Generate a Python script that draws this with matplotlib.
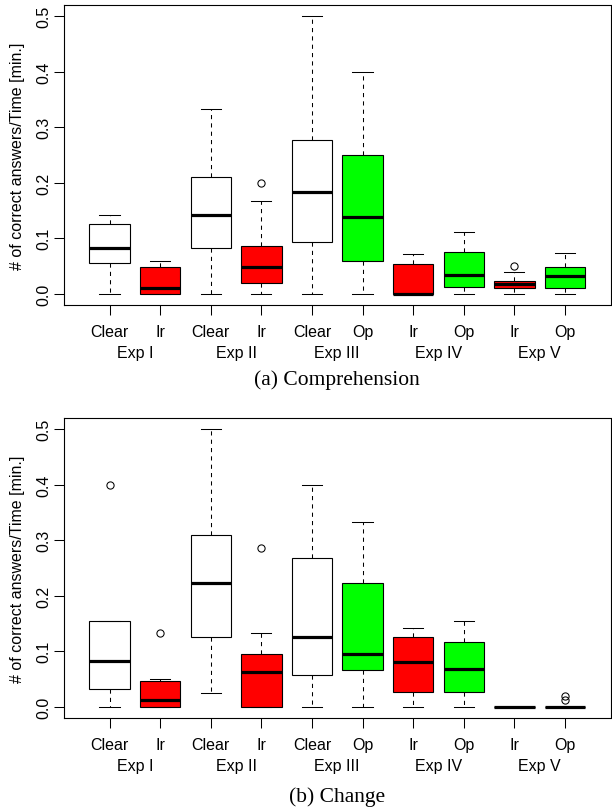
import matplotlib
matplotlib.use("Agg")
import matplotlib.pyplot as plt
import numpy as np

# box labels and fill colours (same layout in both panels)
box_labels = ['Clear', 'Ir', 'Clear', 'Ir', 'Clear', 'Op', 'Ir', 'Op', 'Ir', 'Op']
box_colors = ['white', 'red', 'white', 'red', 'white', '#00FF00', 'red', '#00FF00', 'red', '#00FF00']
exp_labels = ['Exp I', 'Exp II', 'Exp III', 'Exp IV', 'Exp V']

# (a) Comprehension
comp_whislo = [0, 0, 0, 0, 0, 0, 0, 0, 0, 0]
comp_q1 = [0.055, 0.0, 0.0833, 0.019, 0.093, 0.0587, 0.0, 0.0126, 0.0108, 0.0102]
comp_med = [0.083, 0.0114, 0.1429, 0.049, 0.183, 0.138, 0.0, 0.034, 0.0186, 0.033]
comp_q3 = [0.125, 0.0485, 0.2105, 0.0862, 0.277, 0.25, 0.0545, 0.076, 0.0228, 0.048]
comp_whishi = [0.1429, 0.0588, 0.3333, 0.1667, 0.5, 0.4, 0.0714, 0.111, 0.04, 0.074]
comp_fliers = [[], [], [], [0.2], [], [], [], [], [0.05], []]

# (b) Change
chg_whislo = [0, 0, 0.025, 0, 0, 0, 0, 0, 0, 0]
chg_q1 = [0.033, 0.0, 0.125, 0.0, 0.058, 0.067, 0.0275, 0.0263, 0, 0]
chg_med = [0.0833, 0.012, 0.2228, 0.0625, 0.125, 0.0958, 0.0808, 0.0677, 0, 0]
chg_q3 = [0.1545, 0.0467, 0.309, 0.0952, 0.2677, 0.2228, 0.125, 0.1174, 0, 0]
chg_whishi = [0.1545, 0.05, 0.5, 0.1333, 0.4, 0.3333, 0.1429, 0.155, 0, 0]
chg_fliers = [[0.4], [0.1333], [], [0.2857], [], [], [], [], [], [0.02, 0.0125]]

yticks = [0.0, 0.1, 0.2, 0.3, 0.4, 0.5]

FS = 11.5
plt.rcParams['font.family'] = ['Liberation Sans', 'DejaVu Sans']


def draw_panel(ax, whislo, q1, med, q3, whishi, fliers):
    stats = []
    for i in range(len(box_labels)):
        stats.append(dict(whislo=whislo[i], q1=q1[i], med=med[i], q3=q3[i],
                          whishi=whishi[i], fliers=fliers[i]))
    pos = np.arange(1, len(stats) + 1)
    bp = ax.bxp(stats, positions=pos, widths=0.8, capwidths=0.4,
                patch_artist=True, showfliers=True,
                boxprops=dict(edgecolor='black', linewidth=0.8),
                medianprops=dict(color='black', linewidth=2.3, solid_capstyle='butt'),
                whiskerprops=dict(color='black', linewidth=0.75, linestyle=(0, (4, 4))),
                capprops=dict(color='black', linewidth=0.75),
                flierprops=dict(marker='o', markersize=5.2, markerfacecolor='none',
                                markeredgecolor='black', markeredgewidth=0.75))
    for patch, c in zip(bp['boxes'], box_colors):
        patch.set_facecolor(c)

    ax.set_xlim(0.1, 10.9)
    ax.set_ylim(-0.02, 0.52)
    ax.set_xticks(pos)
    ax.set_xticklabels(box_labels, fontsize=FS)
    ax.set_yticks(yticks)
    ax.set_yticklabels(['%.1f' % v for v in yticks], fontsize=FS,
                       rotation=90, va='center')
    ax.tick_params(axis='both', direction='out', length=7.2, width=0.75, color='black')
    ax.tick_params(axis='x', pad=6.5)
    ax.tick_params(axis='y', pad=2)
    for s in ax.spines.values():
        s.set_linewidth(0.8)
        s.set_color('black')

    # experiment group names under each pair
    for k, name in enumerate(exp_labels):
        ax.text(2 * k + 1.5, -0.157, name, transform=ax.get_xaxis_transform(),
                ha='center', va='center', fontsize=FS)


fig = plt.figure(figsize=(6.12, 8.12), dpi=100)
W, H = 612.0, 812.0
ax1 = fig.add_axes([64 / W, 1 - 306 / H, 546.5 / W, 300 / H])
ax2 = fig.add_axes([64 / W, 1 - 719 / H, 546.5 / W, 300 / H])

draw_panel(ax1, comp_whislo, comp_q1, comp_med, comp_q3, comp_whishi, comp_fliers)
draw_panel(ax2, chg_whislo, chg_q1, chg_med, chg_q3, chg_whishi, chg_fliers)

ylab = '# of correct answers/Time [min.]'
fig.text(18 / W, 1 - 156 / H, ylab, rotation=90, ha='center', va='center', fontsize=FS)
fig.text(18 / W, 1 - 569 / H, ylab, rotation=90, ha='center', va='center', fontsize=FS)

fig.text(337 / W, 1 - 380 / H, '(a) Comprehension', ha='center', va='center',
         fontsize=15.5, family='Liberation Serif')
fig.text(337 / W, 1 - 797 / H, '(b) Change', ha='center', va='center',
         fontsize=15.5, family='Liberation Serif')

fig.savefig('out.png', dpi=100)
